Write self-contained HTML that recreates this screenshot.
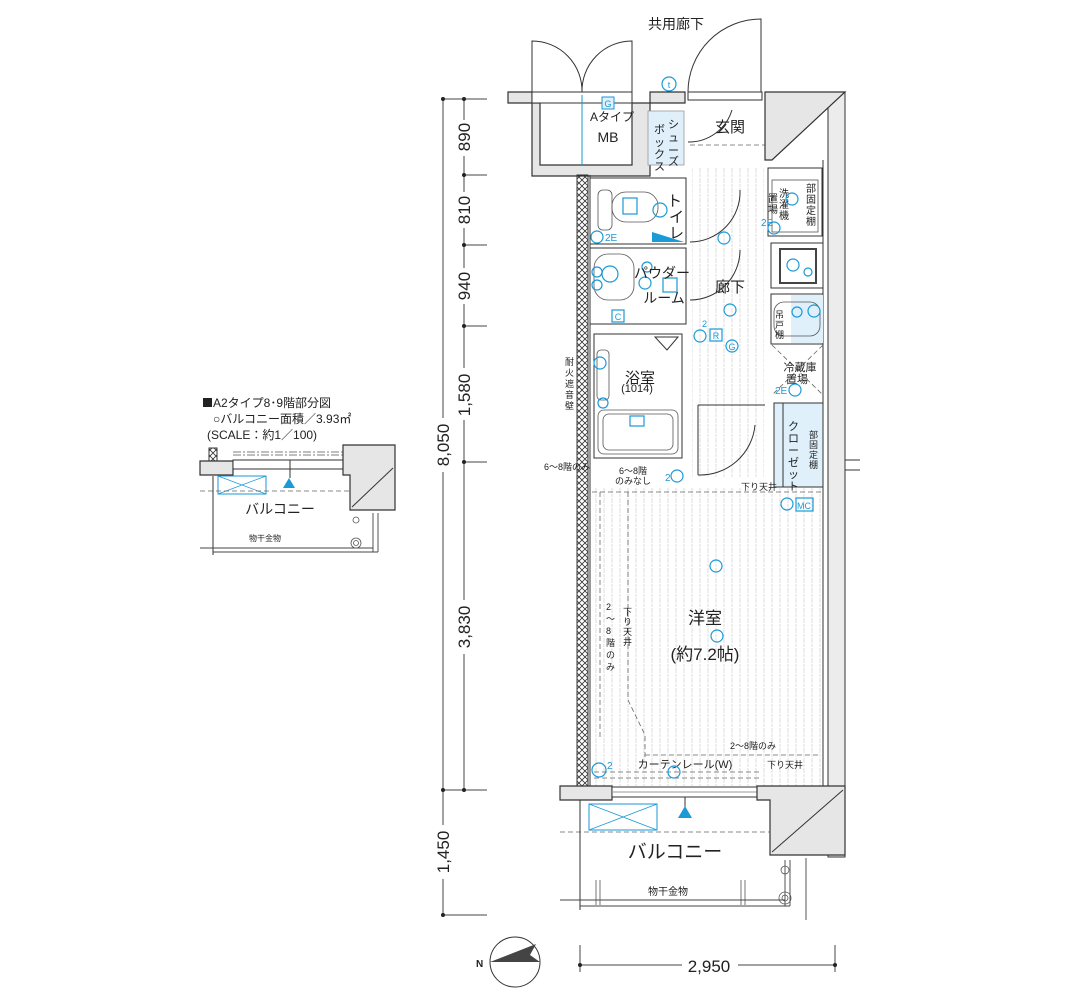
<!DOCTYPE html>
<html><head><meta charset="utf-8"><style>
html,body{margin:0;padding:0;background:#fff;}
svg{display:block;}
text{font-family:"Liberation Sans","Noto Sans CJK JP",sans-serif;fill:#222;}
.c{fill:none;stroke:#1a9ad6;stroke-width:1.2}
.cf{fill:#dff0fa;stroke:#1a9ad6;stroke-width:1}
.l{fill:none;stroke:#333;stroke-width:1}
.t{fill:none;stroke:#555;stroke-width:0.8}
.d{fill:none;stroke:#666;stroke-width:0.8;stroke-dasharray:5 3}
.g{fill:#e6e6e6;stroke:#333;stroke-width:1.2}
</style></head><body>
<svg width="1080" height="1000" viewBox="0 0 1080 1000" xmlns="http://www.w3.org/2000/svg">
<defs>
<pattern id="st" width="8" height="10" patternUnits="userSpaceOnUse"><line x1="4" y1="0" x2="4" y2="10" stroke="#cfcfcf" stroke-width="0.7" stroke-dasharray="3 1"/></pattern>
<pattern id="hx" width="6" height="6" patternUnits="userSpaceOnUse"><path d="M0 0L6 6M6 0L0 6" stroke="#333" stroke-width="0.8"/></pattern>
</defs>

<g stroke="#444" stroke-width="1" fill="none">
<line x1="443" y1="99" x2="443" y2="915"/>
<line x1="464" y1="99" x2="464" y2="790"/>
<line x1="443" y1="99" x2="487" y2="99"/>
<line x1="464" y1="175" x2="487" y2="175"/>
<line x1="464" y1="245" x2="487" y2="245"/>
<line x1="464" y1="326" x2="487" y2="326"/>
<line x1="464" y1="462" x2="487" y2="462"/>
<line x1="443" y1="790" x2="487" y2="790"/>
<line x1="443" y1="915" x2="487" y2="915"/>
<line x1="580" y1="965" x2="835" y2="965"/>
<line x1="580" y1="945" x2="580" y2="972"/>
<line x1="835" y1="945" x2="835" y2="972"/>
</g>
<g fill="#222">
<circle cx="443" cy="99" r="2"/><circle cx="464" cy="99" r="2"/><circle cx="464" cy="175" r="2"/><circle cx="464" cy="245" r="2"/><circle cx="464" cy="326" r="2"/><circle cx="464" cy="462" r="2"/><circle cx="443" cy="790" r="2"/><circle cx="464" cy="790" r="2"/><circle cx="443" cy="915" r="2"/><circle cx="580" cy="965" r="2"/><circle cx="835" cy="965" r="2"/>
</g>
<g font-size="17" text-anchor="middle">
<rect x="455" y="120" width="18" height="36" fill="#fff"/><text transform="translate(470,137) rotate(-90)">890</text>
<rect x="455" y="192" width="18" height="36" fill="#fff"/><text transform="translate(470,210) rotate(-90)">810</text>
<rect x="455" y="268" width="18" height="36" fill="#fff"/><text transform="translate(470,286) rotate(-90)">940</text>
<rect x="455" y="368" width="18" height="52" fill="#fff"/><text transform="translate(470,395) rotate(-90)">1,580</text>
<rect x="455" y="600" width="18" height="54" fill="#fff"/><text transform="translate(470,627) rotate(-90)">3,830</text>
<rect x="434" y="418" width="18" height="54" fill="#fff"/><text transform="translate(449,445) rotate(-90)">8,050</text>
<rect x="434" y="825" width="18" height="54" fill="#fff"/><text transform="translate(449,852) rotate(-90)">1,450</text>
<rect x="682" y="955" width="56" height="18" fill="#fff"/><text x="709" y="972">2,950</text>
</g>

<circle cx="515" cy="962" r="25" fill="none" stroke="#333" stroke-width="1"/>
<path d="M490 962 L536 944 L530 955 L540 962 Z" fill="#444"/>
<text x="476" y="967" font-size="10" font-weight="bold">N</text>

<text x="676" y="29" font-size="14" text-anchor="middle">共用廊下</text>
<g class="l">
<path d="M532 92 V41 A50 50 0 0 1 582 92"/>
<path d="M632 92 V41 A50 50 0 0 0 582 92"/>
<path d="M761 92 V19 A73 73 0 0 0 688 92"/>
</g>
<circle class="c" cx="669" cy="84" r="7"/><text x="669" y="88" font-size="9" text-anchor="middle" style="fill:#1a9ad6">t</text>

<rect x="590" y="488" width="233" height="298" fill="url(#st)"/>
<rect x="692" y="168" width="72" height="310" fill="url(#st)"/>

<path class="g" d="M508 92 H532 V103 H540 V165 H632 V103 H650 V92 H685 V103 H650 V176 H532 V103 H508 Z"/>
<rect x="532" y="92" width="100" height="11" fill="#fff" stroke="#333" stroke-width="1"/>
<line x1="582" y1="95" x2="582" y2="165" stroke="#1a9ad6" stroke-width="1"/>
<rect x="602" y="97" width="12" height="12" class="cf" fill="#fff"/><text x="608" y="107" font-size="9" text-anchor="middle" style="fill:#1a9ad6">G</text>
<text x="612" y="121" font-size="12" text-anchor="middle">Aタイプ</text>
<text x="608" y="142" font-size="14" text-anchor="middle">MB</text>

<rect x="688" y="92" width="74" height="8" fill="#fff" stroke="#333"/>
<rect x="648" y="111" width="36" height="54" fill="#dff0fa" stroke="#999" stroke-width="0.8"/>
<text font-size="11"><tspan x="668" y="128">シ</tspan><tspan x="668" y="141">ュ</tspan><tspan x="668" y="154">ー</tspan><tspan x="668" y="165">ズ</tspan></text>
<text font-size="11"><tspan x="654" y="133">ボ</tspan><tspan x="654" y="146">ッ</tspan><tspan x="654" y="158">ク</tspan><tspan x="654" y="170">ス</tspan></text>
<text x="730" y="132" font-size="15" text-anchor="middle">玄関</text>
<path class="l" d="M688 142 A45 45 0 0 0 732 110"/>
<path class="d" d="M690 145 H765"/>

<rect x="828" y="92" width="17" height="765" fill="#ececec" stroke="#333" stroke-width="1"/>
<path class="g" d="M765 92 H845 L772 160 H765 Z"/>
<line x1="823" y1="160" x2="823" y2="790" stroke="#333"/>
<line x1="845" y1="460" x2="860" y2="460" stroke="#333"/>
<line x1="845" y1="470" x2="860" y2="470" stroke="#333"/>

<rect x="577" y="175" width="11" height="612" fill="url(#hx)" stroke="#333"/>
<line x1="590" y1="175" x2="590" y2="787" stroke="#333"/>
<text font-size="9" fill="#444"><tspan x="565" y="365">耐</tspan><tspan x="565" y="376">火</tspan><tspan x="565" y="387">遮</tspan><tspan x="565" y="398">音</tspan><tspan x="565" y="409">壁</tspan></text>

<rect x="590" y="178" width="96" height="66" fill="#fff" stroke="#333"/>
<rect x="598" y="190" width="14" height="40" rx="5" class="t"/>
<rect x="612" y="192" width="46" height="30" rx="14" class="t"/>
<rect x="623" y="198" width="14" height="16" class="c"/>
<circle class="c" cx="660" cy="210" r="7"/>
<path d="M652 232 H684 V242 H652 Z" fill="#1a9ad6"/>
<path d="M652 232 L684 242 V232 Z" fill="#fff"/>
<text font-size="15"><tspan x="667" y="206">ト</tspan><tspan x="669" y="222">イ</tspan><tspan x="669" y="238">レ</tspan></text>
<circle class="c" cx="597" cy="237" r="6"/><text x="605" y="241" font-size="10" style="fill:#1a9ad6">2E</text>
<circle class="c" cx="724" cy="238" r="6"/>
<path class="l" d="M690 242 A50 50 0 0 0 740 190"/>

<rect x="590" y="248" width="96" height="76" fill="#fff" stroke="#333"/>
<rect x="594" y="254" width="40" height="46" rx="14" class="t"/>
<circle class="c" cx="610" cy="274" r="8"/><circle class="c" cx="597" cy="272" r="5"/><circle class="c" cx="597" cy="285" r="5"/>
<circle class="c" cx="647" cy="267" r="5"/><circle class="c" cx="645" cy="283" r="6"/>
<rect x="663" y="278" width="14" height="14" class="c"/>
<text x="662" y="278" font-size="14" text-anchor="middle">パウダー</text>
<text x="664" y="303" font-size="14" text-anchor="middle">ルーム</text>
<rect x="612" y="310" width="12" height="12" class="c"/><text x="618" y="320" font-size="9" text-anchor="middle" style="fill:#1a9ad6">C</text>
<text x="730" y="292" font-size="15" text-anchor="middle">廊下</text>
<path class="l" d="M690 300 A50 50 0 0 0 740 250"/>
<circle class="c" cx="730" cy="310" r="6"/>
<circle class="c" cx="700" cy="336" r="6"/><text x="702" y="327" font-size="9" style="fill:#1a9ad6">2</text>
<rect x="710" y="329" width="12" height="12" class="c"/><text x="716" y="339" font-size="9" text-anchor="middle" style="fill:#1a9ad6">R</text>
<circle class="c" cx="732" cy="346" r="6"/><text x="732" y="350" font-size="9" text-anchor="middle" style="fill:#1a9ad6">G</text>

<rect x="594" y="334" width="88" height="124" fill="#fff" stroke="#333"/>
<path class="l" d="M655 337 L678 337 L667 350 Z"/>
<text x="640" y="383" font-size="15" text-anchor="middle">浴室</text>
<text x="637" y="392" font-size="11" text-anchor="middle">(1014)</text>
<rect x="597" y="350" width="12" height="50" rx="4" class="t"/>
<circle class="c" cx="600" cy="363" r="6"/><circle class="c" cx="603" cy="403" r="5"/>
<rect x="598" y="410" width="80" height="44" rx="6" class="t"/>
<rect x="603" y="414" width="70" height="36" rx="6" class="t"/>
<rect x="630" y="416" width="14" height="10" class="c"/>
<path class="l" d="M698 405 H765 M698 405 V475 M698 475 A55 55 0 0 0 755 425"/>
<circle class="c" cx="677" cy="476" r="6"/><text x="665" y="481" font-size="10" style="fill:#1a9ad6">2</text>

<rect x="768" y="168" width="54" height="68" fill="#fff" stroke="#333"/>
<rect x="772" y="180" width="46" height="52" class="t"/>
<text font-size="10"><tspan x="779" y="197">洗</tspan><tspan x="779" y="208">濯</tspan><tspan x="779" y="219">機</tspan><tspan x="768" y="202">置</tspan><tspan x="768" y="213">場</tspan><tspan x="806" y="192">部</tspan><tspan x="806" y="203">固</tspan><tspan x="806" y="214">定</tspan><tspan x="806" y="225">棚</tspan></text>
<circle class="c" cx="792" cy="199" r="6"/><circle class="c" cx="774" cy="228" r="6"/><text x="761" y="226" font-size="10" style="fill:#1a9ad6">2E</text>
<rect x="771" y="243" width="52" height="45" fill="#fff" stroke="#333"/>
<rect x="780" y="249" width="36" height="34" fill="#fff" stroke="#444" stroke-width="2"/>
<circle class="c" cx="793" cy="265" r="6"/><circle class="c" cx="808" cy="272" r="4"/>
<rect x="771" y="294" width="52" height="50" fill="#fff" stroke="#333"/>
<rect x="791" y="295" width="32" height="48" fill="#dff0fa"/>
<rect x="774" y="302" width="46" height="34" rx="10" class="t"/>
<circle class="c" cx="797" cy="312" r="5"/><circle class="c" cx="814" cy="311" r="6"/>
<text font-size="9"><tspan x="775" y="318">吊</tspan><tspan x="775" y="328">戸</tspan><tspan x="775" y="338">棚</tspan></text>
<path class="d" d="M772 345 L823 395 M823 345 L772 395"/>
<text x="800" y="371" font-size="11" text-anchor="middle">冷蔵庫</text>
<text x="797" y="383" font-size="11" text-anchor="middle">置場</text>
<circle class="c" cx="795" cy="390" r="6"/><text x="775" y="394" font-size="10" style="fill:#1a9ad6">2E</text>
<rect x="774" y="403" width="49" height="84" fill="#dff0fa" stroke="#333"/>
<line x1="783" y1="403" x2="783" y2="487" stroke="#333"/>
<text font-size="11"><tspan x="788" y="430">ク</tspan><tspan x="788" y="442">ロ</tspan><tspan x="788" y="454">ー</tspan><tspan x="788" y="466">ゼ</tspan><tspan x="788" y="478">ッ</tspan><tspan x="788" y="490">ト</tspan></text>
<text font-size="9"><tspan x="809" y="438">部</tspan><tspan x="809" y="448">固</tspan><tspan x="809" y="458">定</tspan><tspan x="809" y="468">棚</tspan></text>
<circle class="c" cx="787" cy="504" r="6"/>
<rect x="796" y="498" width="17" height="13" class="c"/><text x="804" y="509" font-size="9" text-anchor="middle" style="fill:#1a9ad6">MC</text>

<text x="590" y="470" font-size="9" fill="#555" text-anchor="end">6～8階のみ</text>
<text x="633" y="474" font-size="9" text-anchor="middle">6～8階</text>
<text x="633" y="484" font-size="9" text-anchor="middle">のみなし</text>
<text x="741" y="490" font-size="9">下り天井</text>
<path class="d" d="M592 492 H823"/>
<path class="d" d="M600 492 V740 M628 492 V700 L645 735 V760"/>
<text font-size="9" fill="#555"><tspan x="606" y="610">2</tspan><tspan x="606" y="622">〜</tspan><tspan x="606" y="634">8</tspan><tspan x="606" y="646">階</tspan><tspan x="606" y="658">の</tspan><tspan x="606" y="670">み</tspan><tspan x="623" y="615">下</tspan><tspan x="623" y="625">り</tspan><tspan x="623" y="635">天</tspan><tspan x="623" y="645">井</tspan></text>
<circle class="c" cx="716" cy="566" r="6"/>
<text x="705" y="624" font-size="17" text-anchor="middle">洋室</text>
<circle class="c" cx="717" cy="636" r="6"/>
<text x="705" y="660" font-size="17" text-anchor="middle">(約7.2帖)</text>
<text x="730" y="749" font-size="9">2～8階のみ</text>
<path class="d" d="M645 755 H820"/>
<text x="767" y="768" font-size="9">下り天井</text>
<text x="685" y="768" font-size="11" text-anchor="middle">カーテンレール(W)</text>
<path class="d" d="M594 772 H760 M594 778 H760"/>
<circle class="c" cx="599" cy="770" r="7"/><text x="607" y="769" font-size="10" style="fill:#1a9ad6">2</text>
<circle class="c" cx="674" cy="772" r="6"/>

<path class="g" d="M560 786 H612 V800 H560 Z"/>
<rect x="612" y="787" width="145" height="10" fill="#fff" stroke="#333"/>
<line x1="612" y1="792" x2="757" y2="792" stroke="#999"/>
<path class="g" d="M757 786 H845 V855 H770 V800 H757 Z"/>
<path d="M772 852 L843 790" stroke="#333"/>
<line x1="685" y1="797" x2="685" y2="810" stroke="#333"/>
<path d="M678 818 L685 806 L692 818 Z" fill="#1a9ad6"/>
<rect x="589" y="804" width="68" height="26" fill="none" stroke="#1a9ad6"/>
<path d="M589 804 L657 830 M657 804 L589 830" stroke="#1a9ad6" stroke-width="0.8"/>
<path class="d" d="M560 832 H770"/>
<line x1="580" y1="800" x2="580" y2="910" stroke="#333"/>
<text x="675" y="858" font-size="19" text-anchor="middle">バルコニー</text>
<text x="668" y="895" font-size="10" text-anchor="middle">物干金物</text>
<path d="M560 900 H785 M580 906 H790 M785 860 V906 M790 860 V906 M806 858 V920" stroke="#444" fill="none" stroke-width="0.9"/>
<path class="t" d="M596 880 V905 M600 880 V905 M741 880 V905 M745 880 V905"/>
<circle cx="785" cy="870" r="4" class="t"/><circle cx="785" cy="898" r="6" class="t"/><circle cx="785" cy="898" r="3" class="t"/>

<rect x="203" y="398" width="9" height="9" fill="#222"/>
<text x="213" y="407" font-size="12" font-family="Liberation Serif">A2タイプ8･9階部分図</text>
<text x="213" y="423" font-size="12" font-family="Liberation Serif">○バルコニー面積／3.93㎡</text>
<text x="207" y="439" font-size="12" font-family="Liberation Serif">(SCALE：約1／100)</text>
<rect x="209" y="448" width="8" height="14" fill="url(#hx)" stroke="#333"/>
<path class="g" d="M200 461 H233 V475 H200 Z"/>
<rect x="233" y="460" width="110" height="9" fill="#fff" stroke="#333"/>
<path d="M233 452 H345 M233 455 H345" stroke="#555" stroke-width="0.8" stroke-dasharray="8 2 2 2"/>
<path class="g" d="M343 445 H395 V510 H350 V475 H343 Z"/>
<path d="M352 507 L393 468" stroke="#333"/>
<line x1="290" y1="460" x2="290" y2="478" stroke="#333"/>
<path d="M283 488 L289 478 L295 488 Z" fill="#1a9ad6"/>
<rect x="218" y="476" width="48" height="18" fill="none" stroke="#1a9ad6"/>
<path d="M218 476 L266 494 M266 476 L218 494" stroke="#1a9ad6" stroke-width="0.8"/>
<path class="d" d="M200 491 H350"/>
<line x1="213" y1="476" x2="213" y2="555" stroke="#333"/>
<text x="280" y="514" font-size="14" text-anchor="middle">バルコニー</text>
<text x="265" y="541" font-size="8" text-anchor="middle">物干金物</text>
<path d="M200 548 H373 M213 552 H378 M373 513 V552 M378 513 V552" stroke="#444" fill="none" stroke-width="0.9"/>
<circle cx="356" cy="520" r="3" class="t"/><circle cx="356" cy="543" r="5" class="t"/><circle cx="356" cy="543" r="2.5" class="t"/>
</svg>
</body></html>
